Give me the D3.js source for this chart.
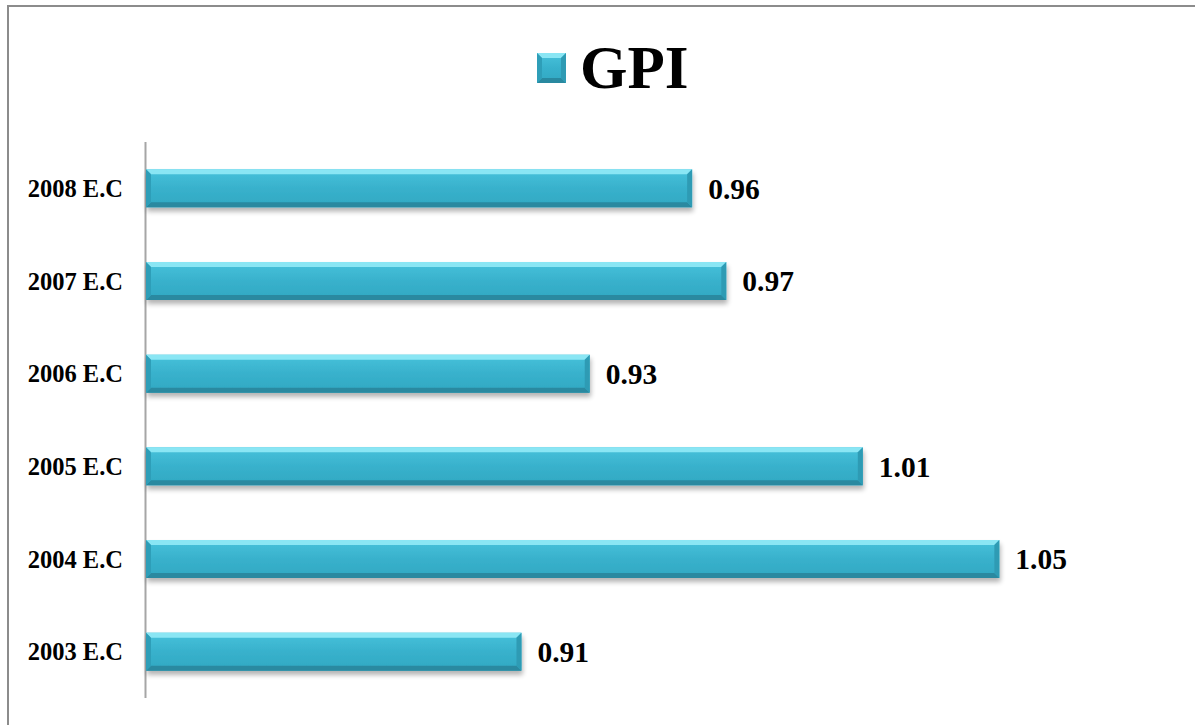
<!DOCTYPE html>
<html>
<head>
<meta charset="utf-8">
<script src="https://cdn.jsdelivr.net/npm/d3@7"></script>
<style>
  body { margin: 0; background: #fff; }
  text { font-family: "Liberation Serif", "Times New Roman", serif; font-weight: bold; fill: #000; }
</style>
</head>
<body>
<div id="chart"></div>
<script>
// chart data
var years = ["2008 E.C", "2007 E.C", "2006 E.C", "2005 E.C", "2004 E.C", "2003 E.C"];
var gpi = [0.96, 0.97, 0.93, 1.01, 1.05, 0.91];
var seriesName = "GPI";

var width = 1195, height = 725;
var margin = { top: 142, right: 25, bottom: 27, left: 146 };

var svg = d3.select("#chart")
    .append("svg")
    .attr("width", width)
    .attr("height", height);

// gradients for the bevelled bars
var defs = svg.append("defs");
var grad = defs.append("linearGradient")
    .attr("id", "barGrad")
    .attr("x1", 0).attr("y1", 0).attr("x2", 0).attr("y2", 1);
grad.append("stop").attr("offset", "0%").attr("stop-color", "#48c2db");
grad.append("stop").attr("offset", "50%").attr("stop-color", "#38b1cc");
grad.append("stop").attr("offset", "100%").attr("stop-color", "#31a8c2");

var shadow = defs.append("filter").attr("id", "shadow")
    .attr("x", "-5%").attr("y", "-20%").attr("width", "110%").attr("height", "160%");
shadow.append("feGaussianBlur").attr("in", "SourceAlpha").attr("stdDeviation", 2.5);
shadow.append("feOffset").attr("dx", 1).attr("dy", 4).attr("result", "blur");
shadow.append("feComponentTransfer").append("feFuncA").attr("type", "linear").attr("slope", 0.3);
var merge = shadow.append("feMerge");
merge.append("feMergeNode");
merge.append("feMergeNode").attr("in", "SourceGraphic");

// outer frame
svg.append("path")
    .attr("d", "M8,725 L8,6 L1195,6")
    .attr("fill", "none")
    .attr("stroke", "#8c8c8c")
    .attr("stroke-width", 2);

// scales
var x = d3.scaleLinear()
    .domain([0.8, 1.1])
    .range([margin.left, width - margin.right]);

var y = d3.scaleBand()
    .domain(years)
    .range([margin.top, height - margin.bottom])
    .paddingInner(0.59)
    .paddingOuter(0.295);

// left spine
svg.append("line")
    .attr("x1", margin.left - 0.5).attr("x2", margin.left - 0.5)
    .attr("y1", margin.top).attr("y2", height - margin.bottom)
    .attr("stroke", "#a6a6a6")
    .attr("stroke-width", 2);

// category labels
svg.selectAll(".cat")
    .data(years)
    .enter()
    .append("text")
    .attr("class", "cat")
    .attr("x", 123)
    .attr("y", d => y(d) + y.bandwidth() / 2)
    .attr("dy", "0.35em")
    .attr("text-anchor", "end")
    .style("font-size", "24.5px")
    .text(d => d);

// bars
var bars = svg.selectAll(".bar")
    .data(gpi)
    .enter()
    .append("g")
    .attr("class", "bar")
    .attr("filter", "url(#shadow)")
    .attr("transform", (d, i) => "translate(" + x(0.8) + "," + y(years[i]) + ")");

var h = y.bandwidth(), b = 5;

bars.append("rect")
    .attr("width", d => x(d) - x(0.8))
    .attr("height", h)
    .attr("fill", "url(#barGrad)");

// top bevel
bars.append("path")
    .attr("d", d => {
        var w = x(d) - x(0.8);
        return "M0,0 L" + w + ",0 L" + (w - b) + "," + b + " L" + b + "," + b + "Z";
    })
    .attr("fill", "#8ae6f4");

// bottom bevel
bars.append("path")
    .attr("d", d => {
        var w = x(d) - x(0.8);
        return "M0," + h + " L" + w + "," + h + " L" + (w - b) + "," + (h - b) + " L" + b + "," + (h - b) + "Z";
    })
    .attr("fill", "#2989a0");

// left bevel
bars.append("path")
    .attr("d", "M0,0 L" + b + "," + b + " L" + b + "," + (h - b) + " L0," + h + "Z")
    .attr("fill", "#2e9eb8");

// right bevel
bars.append("path")
    .attr("d", d => {
        var w = x(d) - x(0.8);
        return "M" + w + ",0 L" + w + "," + h + " L" + (w - b) + "," + (h - b) + " L" + (w - b) + "," + b + "Z";
    })
    .attr("fill", "#2f9bb4");

// value labels
svg.selectAll(".val")
    .data(gpi)
    .enter()
    .append("text")
    .attr("class", "val")
    .attr("x", d => x(d) + 16)
    .attr("y", (d, i) => y(years[i]) + h / 2)
    .attr("dy", "0.35em")
    .style("font-size", "29.5px")
    .text(d => d.toFixed(2));

// legend / title
var leg = svg.append("g").attr("transform", "translate(537,53)");
leg.append("rect")
    .attr("width", 29).attr("height", 30)
    .attr("fill", "url(#barGrad)");
leg.append("path").attr("d", "M0,0 L29,0 L24,5 L5,5Z").attr("fill", "#8ae6f4");
leg.append("path").attr("d", "M0,30 L29,30 L24,25 L5,25Z").attr("fill", "#2989a0");
leg.append("path").attr("d", "M0,0 L5,5 L5,25 L0,30Z").attr("fill", "#2e9eb8");
leg.append("path").attr("d", "M29,0 L29,30 L24,25 L24,5Z").attr("fill", "#2f9bb4");
svg.append("text")
    .attr("x", 580)
    .attr("y", 88)
    .style("font-size", "61px")
    .text(seriesName);
</script>
</body>
</html>
